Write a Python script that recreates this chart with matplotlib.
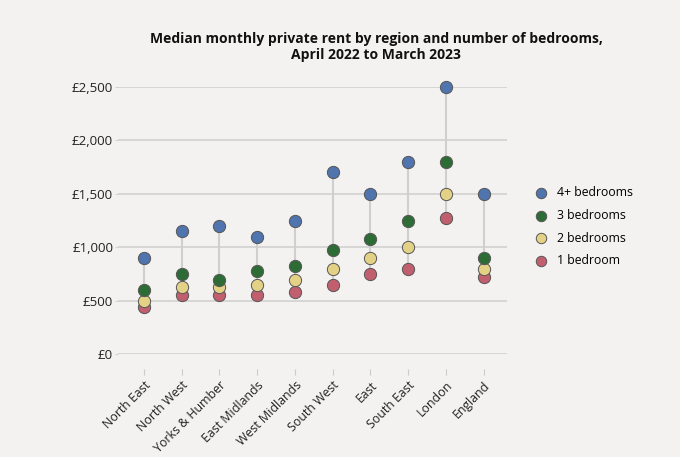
import matplotlib
matplotlib.use("Agg")
import matplotlib.pyplot as plt
from matplotlib.ticker import FuncFormatter

regions = ["North East", "North West", "Yorks & Humber", "East Midlands", "West Midlands",
           "South West", "East", "South East", "London", "England"]
bed4 = [900, 1150, 1200, 1100, 1250, 1700, 1500, 1800, 2500, 1500]
bed3 = [595, 750, 695, 775, 825, 975, 1075, 1250, 1800, 900]
bed2 = [500, 630, 630, 650, 695, 800, 900, 1000, 1500, 800]
bed1 = [440, 550, 550, 550, 580, 650, 750, 800, 1275, 725]
series_labels = ["4+ bedrooms", "3 bedrooms", "2 bedrooms", "1 bedroom"]
colors = ["#4f74ae", "#2e6c35", "#e3d286", "#c25f6f"]
yticks = [0, 500, 1000, 1500, 2000, 2500]

plt.rcParams['font.family'] = ['Open Sans', 'DejaVu Sans']
bg = "#f4f2f1"
fig = plt.figure(figsize=(6.8, 4.57), dpi=100, facecolor=bg)
ax = fig.add_axes([118/680, 103/457, 389/680, 267/457], facecolor=bg)

x = list(range(len(regions)))
# stems
for i in x:
    lo = min(bed1[i], bed2[i], bed3[i], bed4[i])
    hi = max(bed1[i], bed2[i], bed3[i], bed4[i])
    ax.plot([i, i], [lo, hi], color="#cfcfcf", lw=1.5, zorder=2, clip_on=False)

# draw from bottom to top so higher markers overlay lower
for vals, lab, c in list(zip([bed4, bed3, bed2, bed1], series_labels, colors))[::-1]:
    ax.scatter(x, vals, s=78, color=c, edgecolor="#555555", linewidth=0.7, zorder=3,
               label=lab, clip_on=False)

ax.set_xlim(-0.69, 9.62)
ax.set_ylim(0, 2500)
ax.set_yticks(yticks)
ax.yaxis.set_major_formatter(FuncFormatter(lambda v, p: "£{:,.0f}".format(v)))
ax.grid(axis="y", color="#d3d3d3", lw=1.3, zorder=0)
ax.set_axisbelow(True)
for s in ax.spines.values():
    s.set_visible(False)
ax.spines['bottom'].set_position(('outward', 11))
ax.set_xticks(x)
ax.set_xticklabels(regions, rotation=45, ha="right", rotation_mode="anchor", fontsize=8.9, color="#222222")
ax.tick_params(axis="x", length=4, color="#cccccc", pad=3)
ax.tick_params(axis="y", length=2.5, color="#d3d3d3", pad=1, labelsize=9.5, labelcolor="#222222")

handles, labels = ax.get_legend_handles_labels()
leg = fig.legend(handles[::-1], labels[::-1], loc="upper left", bbox_to_anchor=(518/680, 1 - 175/457),
                 frameon=False, fontsize=8.8, handletextpad=0.3, labelspacing=0.8, markerscale=0.85)

fig.text(376/680, 1 - 47/457, "Median monthly private rent by region and number of bedrooms,\nApril 2022 to March 2023",
         ha="center", va="center", fontsize=10, fontweight="bold", color="#111111", linespacing=1.2)

fig.savefig("out.png", dpi=100, facecolor=bg)
